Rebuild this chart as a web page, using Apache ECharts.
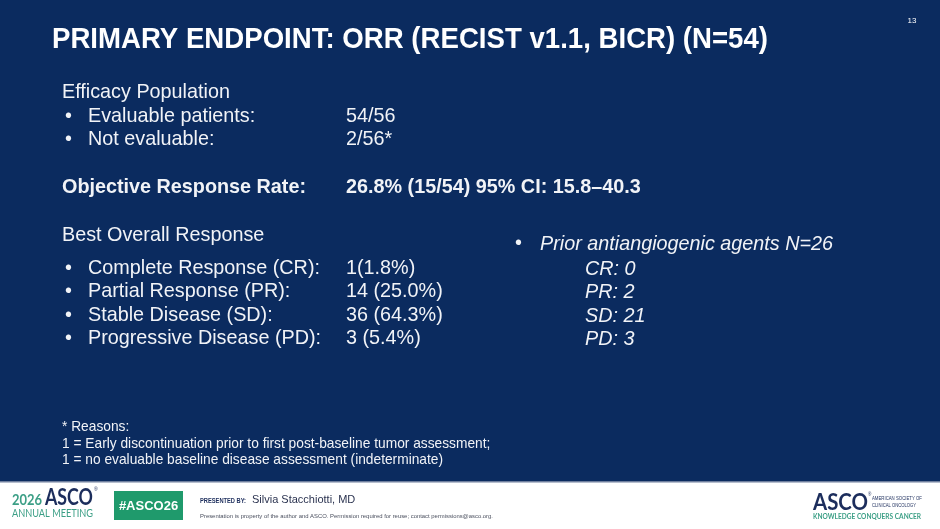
<!DOCTYPE html>
<html>
<head>
<meta charset="utf-8">
<script src="https://cdn.jsdelivr.net/npm/echarts@6/dist/echarts.min.js"></script>
<style>
html,body{margin:0;padding:0;background:#0b2b5f;}
#c{width:940px;height:529px;}
</style>
</head>
<body>
<div id="c"></div>
<script>
// ---- data ----
const titleText = 'PRIMARY ENDPOINT: ORR (RECIST v1.1, BICR) (N=54)';
const slideNumber = '13';
const populationHeader = 'Efficacy Population';
const populationLabels = ['Evaluable patients:', 'Not evaluable:'];
const populationValues = ['54/56', '2/56*'];
const orrLabel = 'Objective Response Rate:';
const orrPct = 26.8, orrResponders = 15, orrN = 54, ciLow = 15.8, ciHigh = 40.3;
const responseHeader = 'Best Overall Response';
const responseLabels = ['Complete Response (CR):', 'Partial Response (PR):', 'Stable Disease (SD):', 'Progressive Disease (PD):'];
const responseCounts = [1, 14, 36, 3];
const responsePercents = ['1.8', '25.0', '64.3', '5.4'];
const responseSeparators = ['', ' ', ' ', ' '];
const priorHeader = 'Prior antiangiogenic agents N=26';
const priorCodes = ['CR', 'PR', 'SD', 'PD'];
const priorCounts = [0, 2, 21, 3];
const footnoteLines = ['1 = Early discontinuation prior to first post-baseline tumor assessment;', '1 = no evaluable baseline disease assessment (indeterminate)'];

// ---- helpers ----
const FF = '"Liberation Sans", Arial, sans-serif';
const LF = 'Lato, "Open Sans", sans-serif';
const mctx = document.createElement('canvas').getContext('2d');
function measure(text, font) { mctx.font = font; return mctx.measureText(text).width; }

const W = 940, H = 529;
const BG = '#0b2b5f';
const FG = '#f1f3f7';
const NAVY = '#1c2d5c';
const TEAL = '#3c9f86';

const els = [];
function txt(x, y, text, size, opts) {
  opts = opts || {};
  const font = (opts.style || 'normal') + ' ' + (opts.weight || 'normal') + ' ' + size + 'px ' + (opts.family || FF);
  let sx = 1;
  if (opts.fitWidth) sx = opts.fitWidth / measure(text, font);
  els.push({
    type: 'text', x: x, y: y, silent: true,
    scaleX: sx,
    style: {
      text: text, fill: opts.fill || FG, font: font,
      textAlign: opts.align || 'left', textVerticalAlign: 'middle'
    }
  });
}

// background + footer
els.push({ type: 'rect', shape: { x: 0, y: 0, width: W, height: 482 }, style: { fill: BG }, silent: true });
els.push({ type: 'rect', shape: { x: 0, y: 482, width: W, height: H - 482 }, style: { fill: '#ffffff' }, silent: true });
els.push({ type: 'rect', shape: { x: 0, y: 481, width: W, height: 1.5 }, style: { fill: '#6f7f9e' }, silent: true });

// title
txt(52, 40, titleText, 30, { weight: 'bold', fill: '#ffffff', fitWidth: 716 });
txt(912, 21, slideNumber, 8, { align: 'center', fill: '#ffffff' });

const BS = 19.8;
const bulletX = 65, labelX = 88, valueX = 346;

// efficacy population
txt(62, 93, populationHeader, BS);
const popY = [117, 140];
populationLabels.forEach((l, i) => {
  txt(bulletX, popY[i], '•', BS);
  txt(labelX, popY[i], l, BS);
  txt(valueX, popY[i], populationValues[i], BS);
});

// ORR
txt(62, 188, orrLabel, BS, { weight: 'bold' });
txt(valueX, 188, orrPct.toFixed(1) + '% (' + orrResponders + '/' + orrN + ') 95% CI: ' + ciLow.toFixed(1) + '\u2013' + ciHigh.toFixed(1), BS, { weight: 'bold' });

// best overall response
txt(62, 236, responseHeader, BS);
const respY = [269, 292, 316, 339];
responseLabels.forEach((l, i) => {
  txt(bulletX, respY[i], '•', BS);
  txt(labelX, respY[i], l, BS);
  txt(valueX, respY[i], responseCounts[i] + responseSeparators[i] + '(' + responsePercents[i] + '%)', BS);
});

// prior antiangiogenic
txt(515, 244, '•', BS);
txt(540, 244, priorHeader, BS, { style: 'italic' });
priorCodes.forEach((c, i) => {
  txt(585, respY[i], c + ': ' + priorCounts[i], BS, { style: 'italic' });
});

// footnote
txt(62, 427, '* Reasons:', 13.75);
txt(62, 444, footnoteLines[0], 13.75);
txt(62, 460, footnoteLines[1], 13.75);

// footer left logo
txt(12, 500, '2026', 14.5, { weight: 'bold', fill: TEAL, family: LF, fitWidth: 30 });
txt(45, 498, 'ASCO', 22, { weight: 'bold', fill: NAVY, family: LF, fitWidth: 48 });
txt(94, 490, '®', 5, { fill: NAVY });
txt(12, 514, 'ANNUAL MEETING', 10.5, { fill: TEAL, family: LF, fitWidth: 81 });

// hashtag box
els.push({ type: 'rect', shape: { x: 114, y: 491, width: 69, height: 29 }, style: { fill: '#1f9a6c' }, silent: true });
txt(148.5, 506, '#ASCO26', 13, { weight: 'bold', fill: '#ffffff', align: 'center' });

// presenter
txt(200, 501, 'PRESENTED BY:', 6.3, { weight: 'bold', fill: NAVY, fitWidth: 46 });
txt(252, 500, 'Silvia Stacchiotti, MD', 11, { fill: '#2b3350' });
txt(200, 516, 'Presentation is property of the author and ASCO. Permission required for reuse; contact permissions@asco.org.', 5.8, { fill: '#4a4f5e', fitWidth: 293 });

// footer right logo
txt(813, 503, 'ASCO', 23, { weight: 'bold', fill: NAVY, family: LF, fitWidth: 55 });
txt(868, 495, '®', 4.5, { fill: NAVY });
txt(872, 499, 'AMERICAN SOCIETY OF', 5, { fill: NAVY, fitWidth: 50 });
txt(872, 506, 'CLINICAL ONCOLOGY', 5, { fill: NAVY, fitWidth: 44 });
txt(813, 516.5, 'KNOWLEDGE CONQUERS CANCER', 7, { weight: 'bold', fill: TEAL, family: LF, fitWidth: 108 });

const chart = echarts.init(document.getElementById('c'), null, { renderer: 'canvas' });
chart.setOption({ backgroundColor: BG, animation: false, graphic: { elements: els } });
</script>
</body>
</html>
